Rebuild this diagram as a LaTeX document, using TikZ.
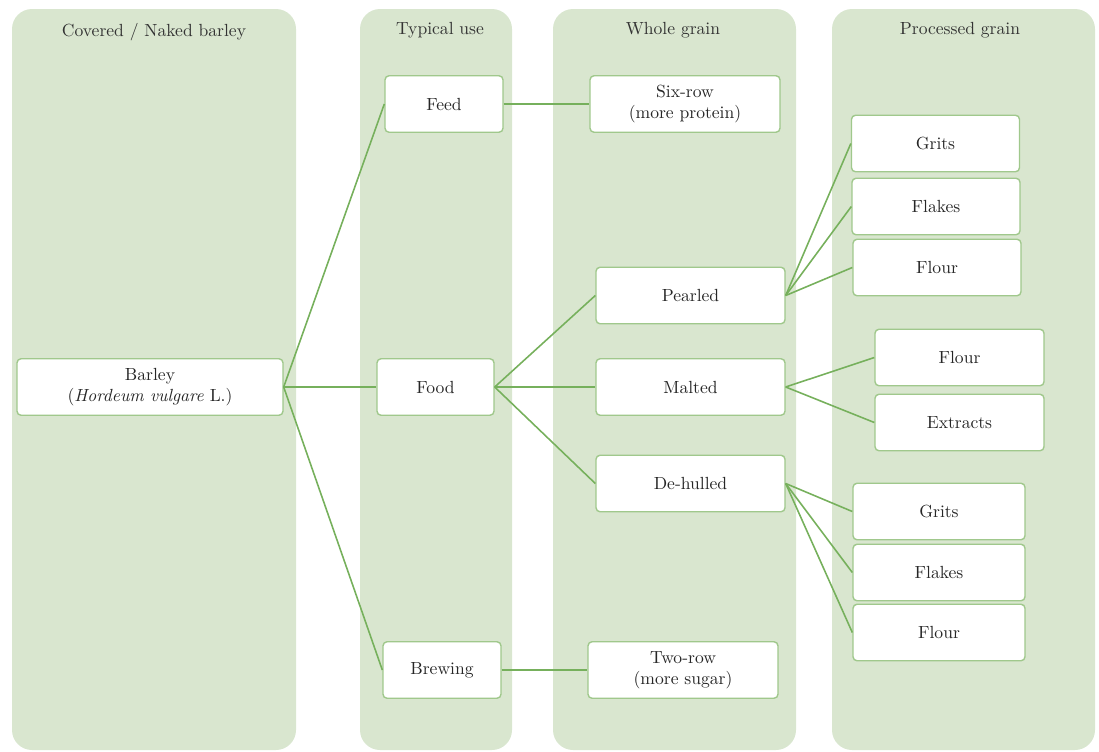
\documentclass[tikz,border=0pt]{standalone}
\usepackage{tikz}
\begin{document}
\begin{tikzpicture}[x=0.02cm,y=-0.02cm,
  panel/.style={fill=panelgreen, rounded corners=0.4cm},
  head/.style={font=\normalsize, text=black!80},
  itembox/.style={draw=boxedge, line width=0.8pt, fill=white, rounded corners=0.08cm,
    minimum height=1.13cm, align=center, font=\normalsize, text=black!85},
  link/.style={draw=linkgreen, line width=0.9pt}]
\definecolor{panelgreen}{RGB}{217,230,207}
\definecolor{boxedge}{RGB}{160,200,140}
\definecolor{linkgreen}{RGB}{118,176,92}
\useasboundingbox (0,0) rectangle (1099,751);
% columns
\fill[panel] (12,9) rectangle (296,750);
\fill[panel] (360,9) rectangle (512,750);
\fill[panel] (553,9) rectangle (796,750);
\fill[panel] (832,9) rectangle (1095,750);
\node[head] (h1) at (154,32) {Covered / Naked barley};
\node[head] (h2) at (440,30) {Typical use};
\node[head] (h3) at (673,30) {Whole grain};
\node[head] (h4) at (960,30) {Processed grain};
% boxes
\node[itembox, minimum width=5.32cm] (barley) at (150,387) {Barley\\(\textit{Hordeum vulgare} L.)};
\node[itembox, minimum width=2.36cm] (feed) at (444,104) {Feed};
\node[itembox, minimum width=2.34cm] (food) at (435.5,387) {Food};
\node[itembox, minimum width=2.36cm] (brewing) at (442,670) {Brewing};
\node[itembox, minimum width=3.8cm] (sixrow) at (685,104) {Six-row\\(more protein)};
\node[itembox, minimum width=3.78cm] (pearled) at (690.5,295.5) {Pearled};
\node[itembox, minimum width=3.78cm] (malted) at (690.5,387) {Malted};
\node[itembox, minimum width=3.78cm] (dehulled) at (690.5,483.5) {De-hulled};
\node[itembox, minimum width=3.8cm] (tworow) at (683,670) {Two-row\\(more sugar)};
\node[itembox, minimum width=3.36cm] (gritsA) at (935.5,143.5) {Grits};
\node[itembox, minimum width=3.36cm] (flakesA) at (936,206.5) {Flakes};
\node[itembox, minimum width=3.36cm] (flourA) at (937,267.5) {Flour};
\node[itembox, minimum width=3.38cm] (flourB) at (959.5,357.5) {Flour};
\node[itembox, minimum width=3.38cm] (extracts) at (959.5,422.5) {Extracts};
\node[itembox, minimum width=3.44cm] (gritsC) at (939,511.5) {Grits};
\node[itembox, minimum width=3.44cm] (flakesC) at (939,572.5) {Flakes};
\node[itembox, minimum width=3.44cm] (flourC) at (939,632.5) {Flour};
% links
\draw[link] (barley.east) -- (feed.west);
\draw[link] (barley.east) -- (food.west);
\draw[link] (barley.east) -- (brewing.west);
\draw[link] (feed.east) -- (sixrow.west);
\draw[link] (food.east) -- (pearled.west);
\draw[link] (food.east) -- (malted.west);
\draw[link] (food.east) -- (dehulled.west);
\draw[link] (brewing.east) -- (tworow.west);
\draw[link] (pearled.east) -- (gritsA.west);
\draw[link] (pearled.east) -- (flakesA.west);
\draw[link] (pearled.east) -- (flourA.west);
\draw[link] (malted.east) -- (flourB.west);
\draw[link] (malted.east) -- (extracts.west);
\draw[link] (dehulled.east) -- (gritsC.west);
\draw[link] (dehulled.east) -- (flakesC.west);
\draw[link] (dehulled.east) -- (flourC.west);
\end{tikzpicture}
\end{document}
